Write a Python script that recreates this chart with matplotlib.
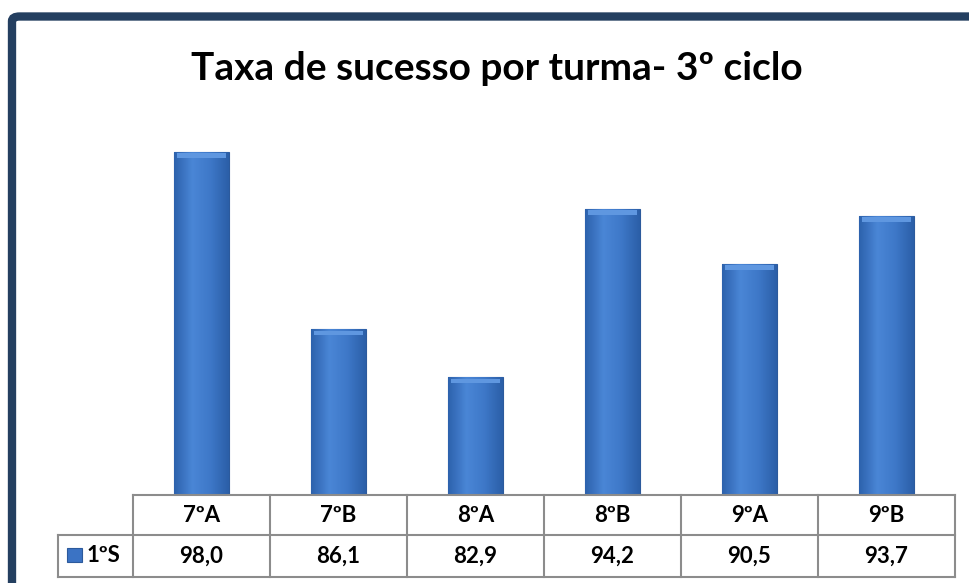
import numpy as np
import matplotlib
matplotlib.use("Agg")
import matplotlib.pyplot as plt
from matplotlib.patches import FancyBboxPatch, Rectangle
from matplotlib.lines import Line2D

# data
turmas = ["7ºA", "7ºB", "8ºA", "8ºB", "9ºA", "9ºB"]
serie = "1ºS"
taxa = [98.0, 86.1, 82.9, 94.2, 90.5, 93.7]

plt.rcParams['font.family'] = ['Lato', 'DejaVu Sans']

W, H = 970, 583
fig = plt.figure(figsize=(W / 100, H / 100), dpi=100)

def fx(px):
    return px / W

def fy(py):
    return 1 - py / H

# dark frame round the chart
frame = FancyBboxPatch((fx(12), fy(700)), fx(1100), fy(16.5) - fy(700),
                       boxstyle="round,pad=0,rounding_size=0.008",
                       transform=fig.transFigure, fill=False,
                       edgecolor="#243F60", linewidth=6)
fig.patches.append(frame)

fig.text(fx(497), fy(68), "Taxa de sucesso por turma- 3º ciclo",
         ha="center", va="center", fontsize=28, fontweight="bold")

left, right, top, bottom = 133, 955, 122, 495
ax = fig.add_axes([fx(left), fy(bottom), fx(right - left), fy(top) - fy(bottom)])
x = np.arange(len(turmas))
ax.set_xlim(-0.5, len(turmas) - 0.5)
ax.set_ylim(75, 100)
ax.axis("off")

bars = ax.bar(x, taxa, width=0.4, bottom=0, color="#3B73C4",
              edgecolor="#2C5A9C", linewidth=0.8, zorder=2)

# horizontal shading on each bar
grad = np.linspace(0, 1, 64)
cmap = matplotlib.colors.LinearSegmentedColormap.from_list(
    "b", ["#2D62AD", "#4A86D6", "#3E78C8", "#2B5FA8"])
for b in bars:
    bx, bw, bh = b.get_x(), b.get_width(), b.get_height()
    im = ax.imshow(grad[None, :], extent=[bx, bx + bw, 75, bh], aspect="auto",
                   cmap=cmap, zorder=3)
    im.set_clip_path(b)
    # light bevel on top
    ax.add_patch(Rectangle((bx + bw * 0.05, bh - 0.4), bw * 0.9, 0.3,
                           facecolor="#5F97E0", edgecolor="none", zorder=4))

# data table under the plot
grid = "#8C8C8C"
cols = np.linspace(left, right, len(turmas) + 1)
r0, r1, r2 = 495, 535, 577
leg_left = 58

def hline(y, x0, x1):
    fig.add_artist(Line2D([fx(x0), fx(x1)], [fy(y), fy(y)], color=grid, lw=1.5))

def vline(xp, y0, y1):
    fig.add_artist(Line2D([fx(xp), fx(xp)], [fy(y0), fy(y1)], color=grid, lw=1.5))

hline(r0, left, right)
hline(r1, leg_left, right)
hline(r2, leg_left, right)
for c in cols:
    vline(c, r0, r2)
vline(leg_left, r1, r2)

for i, t in enumerate(turmas):
    cx = (cols[i] + cols[i + 1]) / 2
    fig.text(fx(cx), fy((r0 + r1) / 2), t, ha="center", va="center",
             fontsize=16, fontweight="bold")
    fig.text(fx(cx), fy((r1 + r2) / 2), f"{taxa[i]:.1f}".replace(".", ","),
             ha="center", va="center", fontsize=16, fontweight="bold")

fig.add_artist(Rectangle((fx(67), fy(562)), fx(15), fy(548) - fy(562),
                         transform=fig.transFigure, facecolor="#3B73C4",
                         edgecolor="#2C5A9C", lw=0.8))
fig.text(fx(87), fy((r1 + r2) / 2), serie, ha="left", va="center",
         fontsize=16, fontweight="bold")

fig.savefig("out.png", dpi=100)
